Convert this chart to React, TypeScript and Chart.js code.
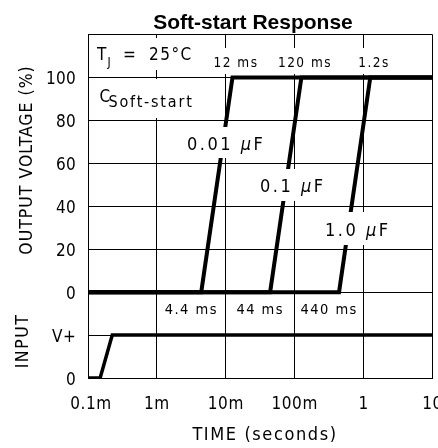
import React, { useEffect, useRef } from 'react';
import { Chart, registerables } from 'chart.js';

Chart.register(...registerables);

// ---- data ----
const xTickValues = [1e-4, 1e-3, 1e-2, 1e-1, 1, 10];
const xTickLabels = ['0.1m', '1m', '10m', '100m', '1', '10'];
const yTickValues = [120, 100, 80, 60, 40, 20, 0, -20, -40];
const yTickLabels = ['', '100', '80', '60', '40', '20', '0', 'V+', '0'];

// output voltage (%) vs time (s) for each soft-start capacitor
const outputPercent = [0, 0, 100, 100];
const cap001Times = [1e-4, 4.4e-3, 12.5e-3, 10];
const cap01Times = [1e-4, 44e-3, 125e-3, 10];
const cap1Times = [1e-4, 0.44, 1.25, 10];

// input step (plotted on the lower band: -40 = "0", -20 = "V+")
const inputTimes = [1e-4, 1.5e-4, 2.25e-4, 10];
const inputLevels = [-40, -40, -20, -20];

const delayLabels = ['4.4 ms', '44 ms', '440 ms'];
const riseLabels = ['12 ms', '120 ms', '1.2s'];

const FONT = '"DejaVu Sans Condensed", "DejaVu Sans", "Liberation Sans", sans-serif';

type Run = { t: string; font: string; ls?: number; dy?: number };

function runsWidth(ctx: CanvasRenderingContext2D, runs: Run[]) {
  let w = 0;
  for (const r of runs) {
    ctx.font = r.font;
    (ctx as any).letterSpacing = (r.ls || 0) + 'px';
    w += ctx.measureText(r.t).width;
  }
  return w;
}

function drawRuns(ctx: CanvasRenderingContext2D, x: number, y: number, runs: Run[], align: 'left' | 'center' | 'right' = 'left') {
  ctx.textAlign = 'left';
  ctx.textBaseline = 'alphabetic';
  const w = runsWidth(ctx, runs);
  let cx = align === 'center' ? x - w / 2 : align === 'right' ? x - w : x;
  for (const r of runs) {
    ctx.font = r.font;
    (ctx as any).letterSpacing = (r.ls || 0) + 'px';
    ctx.fillText(r.t, cx, y + (r.dy || 0));
    cx += ctx.measureText(r.t).width;
  }
  (ctx as any).letterSpacing = '0px';
}

function capRuns(value: string): Run[] {
  const f = `18px ${FONT}`;
  return [
    { t: value + ' ', font: f, ls: 2.5 },
    { t: 'µ', font: `italic 18px ${FONT}`, ls: 2.5 },
    { t: 'F', font: f, ls: 2.5 },
  ];
}

const annotationPlugin = {
  id: 'annotations',
  afterDatasetsDraw(chart: any) {
    const ctx: CanvasRenderingContext2D = chart.ctx;
    const xs = chart.scales.x;
    ctx.save();
    // white label backgrounds
    ctx.fillStyle = '#fff';
    const boxes = [
      [92, 38, 200, 70],
      [211, 48, 261, 74],
      [275, 48, 335, 74],
      [352, 48, 395, 74],
      [92, 79, 198, 118],
      [183, 127, 268, 158],
      [256, 169, 327, 201],
      [321, 212, 385, 245],
    ];
    for (const [l, t, r, b] of boxes) ctx.fillRect(l, t, r - l, b - t);

    ctx.fillStyle = '#000';
    // T_J = 25°C
    drawRuns(ctx, 97, 60, [{ t: 'T', font: `17px ${FONT}` }]);
    drawRuns(ctx, 107.5, 66, [{ t: 'J', font: `12px ${FONT}` }]);
    drawRuns(ctx, 123, 60, [{ t: '=', font: `17px ${FONT}` }]);
    drawRuns(ctx, 149, 60, [{ t: '25°C', font: `17px ${FONT}`, ls: 1.5 }]);

    // rise time labels
    const riseX = [236, 305, 374];
    riseLabels.forEach((s, i) =>
      drawRuns(ctx, riseX[i], 67, [{ t: s, font: `13.5px ${FONT}`, ls: 1.5 }], 'center')
    );

    // C Soft-start
    drawRuns(ctx, 99.5, 102, [{ t: 'C', font: `17px ${FONT}` }]);
    drawRuns(ctx, 108.5, 107, [{ t: 'Soft-start', font: `16px ${FONT}`, ls: 1.8 }]);

    // capacitor values
    drawRuns(ctx, 187, 150, capRuns('0.01'));
    drawRuns(ctx, 260, 192, capRuns('0.1'));
    drawRuns(ctx, 325, 236, capRuns('1.0'));

    // delay labels centred in the decade cells
    const cells = [
      [1e-3, 1e-2],
      [1e-2, 1e-1],
      [1e-1, 1],
    ];
    delayLabels.forEach((s, i) => {
      const cx = (xs.getPixelForValue(cells[i][0]) + xs.getPixelForValue(cells[i][1])) / 2;
      drawRuns(ctx, cx, 314, [{ t: s, font: `14.5px ${FONT}`, ls: 1.5 }], 'center');
    });
    ctx.restore();
  },
  afterDraw(chart: any) {
    const ctx: CanvasRenderingContext2D = chart.ctx;
    const xs = chart.scales.x;
    const ys = chart.scales.y;
    ctx.save();
    ctx.fillStyle = '#000';

    // y tick labels
    yTickValues.forEach((v, i) => {
      if (yTickLabels[i]) drawRuns(ctx, 76, ys.getPixelForValue(v) + 6.5, [{ t: yTickLabels[i], font: `17px ${FONT}`, ls: 0.3 }], 'right');
    });

    // x tick labels
    xTickValues.forEach((v, i) => {
      drawRuns(ctx, xs.getPixelForValue(v) + (i === 0 ? 3 : 0), 408.5, [{ t: xTickLabels[i], font: `17px ${FONT}`, ls: 0.6 }], 'center');
    });

    // x axis title
    drawRuns(ctx, 265, 440, [{ t: 'TIME (seconds)', font: `18px ${FONT}`, ls: 1.6 }], 'center');

    // y axis titles (rotated)
    ctx.save();
    ctx.translate(31.5, 160);
    ctx.rotate(-Math.PI / 2);
    drawRuns(ctx, 0, 0, [{ t: 'OUTPUT VOLTAGE (%)', font: `17.5px ${FONT}`, ls: 1 }], 'center');
    ctx.restore();

    ctx.save();
    ctx.translate(27.5, 341);
    ctx.rotate(-Math.PI / 2);
    drawRuns(ctx, 0, 0, [{ t: 'INPUT', font: `17.5px ${FONT}`, ls: 1.5 }], 'center');
    ctx.restore();

    // chart title
    ctx.font = `bold 21px "Liberation Sans", Arial, sans-serif`;
    ctx.textAlign = 'center';
    ctx.textBaseline = 'alphabetic';
    ctx.fillText('Soft-start Response', 253, 28.5);
    ctx.restore();
  },
};

function pts(xsArr: number[], ysArr: number[]) {
  return xsArr.map((x, i) => ({ x, y: ysArr[i] }));
}

export default function App() {
  const ref = useRef<HTMLCanvasElement>(null);

  useEffect(() => {
    if (!ref.current) return;
    const lineDs = (data: any[], w: number) => ({
      data,
      borderColor: '#000',
      borderWidth: w,
      pointRadius: 0,
      tension: 0,
      fill: false,
      borderCapStyle: 'butt',
      borderJoinStyle: 'miter',
    });
    const grid = { color: '#000', lineWidth: 1, drawTicks: false };
    const chart = new Chart(ref.current, {
      type: 'line',
      data: {
        datasets: [
          lineDs(pts(cap001Times, outputPercent), 4),
          lineDs(pts(cap01Times, outputPercent), 4),
          lineDs(pts(cap1Times, outputPercent), 4),
          lineDs(pts(inputTimes, inputLevels), 3.5),
        ] as any,
      },
      options: {
        animation: false,
        responsive: false,
        devicePixelRatio: 1,
        layout: { padding: { left: 88, right: 5.5, top: 34.5, bottom: 70 } },
        plugins: {
          legend: { display: false },
          tooltip: { enabled: false },
          title: { display: false },
        },
        scales: {
          x: {
            type: 'logarithmic',
            min: 1e-4,
            max: 10,
            afterBuildTicks: (s: any) => {
              s.ticks = xTickValues.map((v) => ({ value: v }));
            },
            ticks: { display: false },
            grid,
            border: { display: true, color: '#000', width: 1 },
          },
          y: {
            type: 'linear',
            min: -40,
            max: 120,
            afterBuildTicks: (s: any) => {
              s.ticks = yTickValues.map((v) => ({ value: v }));
            },
            ticks: { display: false },
            grid,
            border: { display: true, color: '#000', width: 1 },
          },
        } as any,
      },
      plugins: [annotationPlugin],
    });
    return () => chart.destroy();
  }, []);

  return (
    <div style={{ position: 'fixed', left: 0, top: 0, width: 438, height: 448, background: '#fff' }}>
      <canvas ref={ref} width={438} height={448} style={{ display: 'block' }} />
    </div>
  );
}
